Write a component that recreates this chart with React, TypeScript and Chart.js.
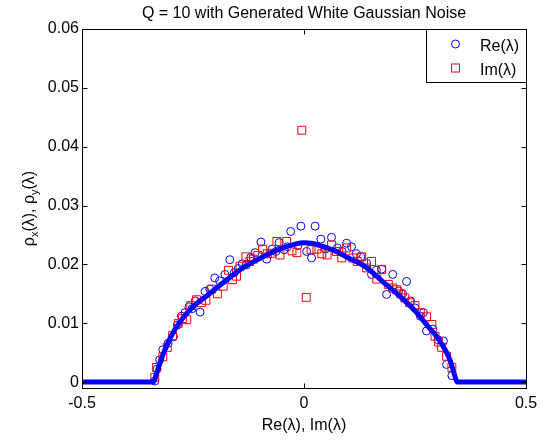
import { useEffect, useRef } from 'react';
import { Chart, registerables } from 'chart.js';

Chart.register(...registerables);

const TITLE = 'Q = 10 with Generated White Gaussian Noise';
const X_LABEL = 'Re(λ), Im(λ)';
const LEGEND_LABELS = ['Re(λ)', 'Im(λ)'];
const X_TICKS = [-0.5, 0, 0.5];
const Y_TICKS = [0, 0.01, 0.02, 0.03, 0.04, 0.05, 0.06];

// Theoretical density curve
const lineX = [-0.5, -0.34, -0.33, -0.32, -0.30, -0.28, -0.25, -0.22, -0.18, -0.14, -0.10, -0.07, -0.04, -0.02, 0, 0.02, 0.04, 0.07, 0.10, 0.14, 0.18, 0.22, 0.25, 0.28, 0.30, 0.32, 0.33, 0.34, 0.345, 0.5];
const lineY = [0, 0, 0.0020, 0.0042, 0.0077, 0.0102, 0.0128, 0.0146, 0.0170, 0.0193, 0.0210, 0.0221, 0.0230, 0.02345, 0.0237, 0.02355, 0.0231, 0.0223, 0.0211, 0.0195, 0.0169, 0.0143, 0.0121, 0.0094, 0.0076, 0.0052, 0.0035, 0.0010, 0, 0];

// Re(λ) histogram points
const reX = [-0.336, -0.331, -0.325, -0.318, -0.306, -0.294, -0.285, -0.276, -0.268, -0.259, -0.252, -0.245, -0.234, -0.223, -0.212, -0.201, -0.190, -0.178, -0.167, -0.157, -0.148, -0.139, -0.130, -0.120, -0.110, -0.097, -0.084, -0.072, -0.063, -0.056, -0.045, -0.037, -0.030, -0.014, -0.007, 0.006, 0.017, 0.025, 0.038, 0.048, 0.062, 0.075, 0.086, 0.096, 0.107, 0.118, 0.128, 0.141, 0.152, 0.163, 0.175, 0.186, 0.200, 0.213, 0.222, 0.231, 0.240, 0.250, 0.262, 0.269, 0.276, 0.290, 0.302, 0.314, 0.321, 0.333];
const reY = [0.0002, 0.0022, 0.0038, 0.0055, 0.0066, 0.0077, 0.0097, 0.0112, 0.0118, 0.0128, 0.0125, 0.0138, 0.0119, 0.0154, 0.0158, 0.0177, 0.0172, 0.0183, 0.0208, 0.0186, 0.0193, 0.0201, 0.0199, 0.0212, 0.0220, 0.0238, 0.0209, 0.0226, 0.0222, 0.0237, 0.0225, 0.0230, 0.0256, 0.0232, 0.0265, 0.0222, 0.0211, 0.0265, 0.0243, 0.0226, 0.0246, 0.0228, 0.0222, 0.0236, 0.0230, 0.0218, 0.0213, 0.0202, 0.0183, 0.0190, 0.0192, 0.0149, 0.0183, 0.0155, 0.0150, 0.0171, 0.0138, 0.0126, 0.0112, 0.0118, 0.0087, 0.0090, 0.0072, 0.0070, 0.0030, 0.0011];

// Im(λ) histogram points
const imX = [-0.336, -0.332, -0.318, -0.308, -0.296, -0.283, -0.274, -0.264, -0.255, -0.242, -0.231, -0.221, -0.208, -0.195, -0.182, -0.170, -0.161, -0.152, -0.144, -0.131, -0.122, -0.114, -0.104, -0.093, -0.083, -0.073, -0.061, -0.054, -0.039, -0.027, -0.016, -0.005, 0.005, 0.016, 0.029, 0.040, 0.052, 0.062, 0.073, 0.085, 0.096, 0.110, 0.120, 0.130, 0.141, 0.152, 0.164, 0.175, 0.190, 0.200, 0.209, 0.218, 0.227, 0.238, 0.250, 0.262, 0.276, 0.288, 0.295, 0.303, 0.310, 0.321, 0.333];
const imY = [0.0008, 0.0025, 0.0043, 0.0059, 0.0079, 0.0100, 0.0108, 0.0106, 0.0130, 0.0140, 0.0135, 0.0139, 0.0158, 0.0150, 0.0163, 0.0190, 0.0174, 0.0180, 0.0197, 0.0213, 0.0205, 0.0209, 0.0215, 0.0226, 0.0218, 0.0219, 0.0239, 0.0216, 0.0239, 0.0223, 0.0220, 0.0428, 0.0144, 0.0225, 0.0226, 0.0218, 0.0216, 0.0233, 0.0222, 0.0211, 0.0228, 0.0211, 0.0205, 0.0213, 0.0194, 0.0205, 0.0175, 0.0191, 0.0166, 0.0160, 0.0157, 0.0150, 0.0143, 0.0135, 0.0130, 0.0118, 0.0111, 0.0098, 0.0078, 0.0068, 0.0059, 0.0044, 0.0025];

const FONT = '"Liberation Sans", Arial, Helvetica, sans-serif';
const BLUE = '#0000ff';
const RED = '#ff0000';

const toPts = (xs: number[], ys: number[]) => xs.map((x, i) => ({ x, y: ys[i] }));

const overlay = {
  id: 'matlabOverlay',
  afterDatasetsDraw(chart: any) {
    const { ctx, chartArea: a, scales } = chart;
    ctx.save();
    ctx.strokeStyle = '#000';
    ctx.lineWidth = 1;
    const L = Math.round(a.left) + 0.5;
    const R = Math.round(a.right) + 0.5;
    const T = Math.round(a.top) + 0.5;
    const B = Math.round(a.bottom) + 0.5;
    ctx.strokeRect(L, T, R - L, B - T);
    const seg = (x1: number, y1: number, x2: number, y2: number) => {
      ctx.beginPath();
      ctx.moveTo(x1, y1);
      ctx.lineTo(x2, y2);
      ctx.stroke();
    };
    const tl = 5;
    Y_TICKS.forEach((v) => {
      const y = Math.round(scales.y.getPixelForValue(v)) + 0.5;
      seg(L, y, L + tl, y);
      seg(R, y, R - tl, y);
    });
    X_TICKS.forEach((v) => {
      const x = Math.round(scales.x.getPixelForValue(v)) + 0.5;
      seg(x, B, x, B - tl);
      seg(x, T, x, T + tl);
    });

    // Legend box
    const lx = 426.5, ly = 29.5, lw = 100, lh = 53;
    ctx.fillStyle = '#fff';
    ctx.fillRect(lx, ly, lw, lh);
    ctx.strokeRect(lx, ly, lw, lh);
    ctx.strokeStyle = BLUE;
    ctx.beginPath();
    ctx.arc(455.5, 44, 4, 0, Math.PI * 2);
    ctx.stroke();
    ctx.strokeStyle = RED;
    ctx.strokeRect(451.5, 64, 8, 8);
    ctx.fillStyle = '#000';
    ctx.font = `16px ${FONT}`;
    ctx.textAlign = 'left';
    ctx.textBaseline = 'alphabetic';
    ctx.fillText(LEGEND_LABELS[0], 480, 51);
    ctx.fillText(LEGEND_LABELS[1], 480, 75);

    // Title
    const cx = (a.left + a.right) / 2;
    ctx.textAlign = 'center';
    ctx.fillText(TITLE, cx, 18);
    // X label
    ctx.fillText(X_LABEL, cx, 430);

    // Y label with subscripts
    const cy = (a.top + a.bottom) / 2;
    const main = `16px ${FONT}`;
    const sub = `11px ${FONT}`;
    const parts: [string, string, number][] = [
      ['ρ', main, 0],
      ['x', sub, 4],
      ['(λ), ρ', main, 0],
      ['y', sub, 4],
      ['(λ)', main, 0],
    ];
    let total = 0;
    parts.forEach(([t, f]) => {
      ctx.font = f;
      total += ctx.measureText(t).width;
    });
    ctx.translate(34, cy);
    ctx.rotate(-Math.PI / 2);
    ctx.textAlign = 'left';
    let px = -total / 2;
    parts.forEach(([t, f, dy]) => {
      ctx.font = f;
      ctx.fillText(t, px, dy);
      px += ctx.measureText(t).width;
    });
    ctx.restore();
  },
};

export default function App() {
  const ref = useRef<HTMLCanvasElement>(null);
  useEffect(() => {
    document.body.style.margin = '0';
    Chart.defaults.font.family = FONT;
    const chart = new Chart(ref.current!, {
      type: 'scatter',
      data: {
        datasets: [
          {
            label: 'theory',
            data: toPts(lineX, lineY),
            showLine: true,
            borderColor: BLUE,
            backgroundColor: BLUE,
            borderWidth: 5,
            pointRadius: 0,
            cubicInterpolationMode: 'monotone',
            order: 0,
          },
          {
            label: LEGEND_LABELS[1],
            data: toPts(imX, imY),
            pointStyle: 'rect',
            pointRadius: 5.6,
            borderColor: RED,
            backgroundColor: 'rgba(0,0,0,0)',
            pointBorderWidth: 1,
            borderWidth: 1,
            order: 1,
          },
          {
            label: LEGEND_LABELS[0],
            data: toPts(reX, reY),
            pointStyle: 'circle',
            pointRadius: 4,
            borderColor: BLUE,
            backgroundColor: 'rgba(0,0,0,0)',
            pointBorderWidth: 1,
            borderWidth: 1,
            order: 2,
          },
        ],
      },
      options: {
        responsive: false,
        animation: false,
        layout: { padding: { top: 29, right: 21, left: 0, bottom: 0 } },
        plugins: {
          legend: { display: false },
          title: { display: false },
          tooltip: { enabled: false },
        },
        scales: {
          x: {
            type: 'linear',
            min: -0.5,
            max: 0.5,
            grid: { display: false, drawTicks: false },
            border: { display: false },
            afterBuildTicks: (s: any) => {
              s.ticks = X_TICKS.map((v) => ({ value: v }));
            },
            afterFit: (s: any) => {
              s.height = 53;
            },
            ticks: {
              padding: 6,
              color: '#000',
              font: { size: 16, family: FONT },
              maxRotation: 0,
              callback: (v: any) => (Number(v) === 0 ? '0' : String(Number(v))),
            },
          },
          y: {
            type: 'linear',
            min: -0.001,
            max: 0.06,
            grid: { display: false, drawTicks: false },
            border: { display: false },
            afterBuildTicks: (s: any) => {
              s.ticks = Y_TICKS.map((v) => ({ value: v }));
            },
            afterFit: (s: any) => {
              s.width = 82;
            },
            ticks: {
              padding: 3,
              color: '#000',
              font: { size: 16, family: FONT },
              callback: (v: any) => (Number(v) === 0 ? '0' : Number(v).toFixed(2)),
            },
          },
        },
      },
      plugins: [overlay],
    } as any);
    return () => chart.destroy();
  }, []);
  return (
    <div style={{ width: 547, height: 441 }}>
      <canvas ref={ref} width={547} height={441} style={{ display: 'block' }} />
    </div>
  );
}
